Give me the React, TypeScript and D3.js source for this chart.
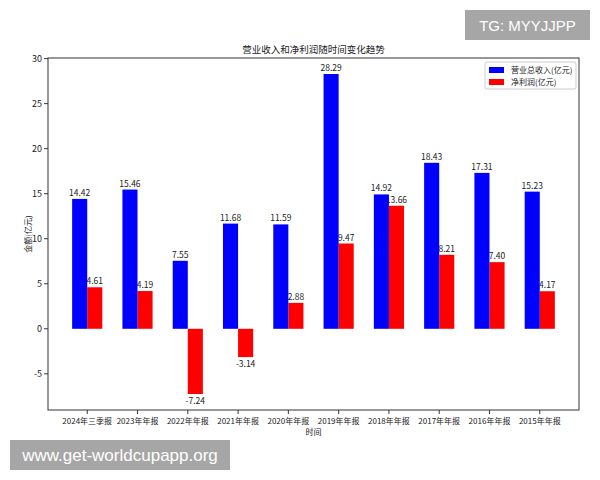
import * as d3 from "d3";

const periods = [
  "2024年三季报",
  "2023年年报",
  "2022年年报",
  "2021年年报",
  "2020年年报",
  "2019年年报",
  "2018年年报",
  "2017年年报",
  "2016年年报",
  "2015年年报",
];
const revenue = [14.42, 15.46, 7.55, 11.68, 11.59, 28.29, 14.92, 18.43, 17.31, 15.23];
const profit = [4.61, 4.19, -7.24, -3.14, 2.88, 9.47, 13.66, 8.21, 7.4, 4.17];
const yTicks = [-5, 0, 5, 10, 15, 20, 25, 30];

const WIDTH = 600;
const HEIGHT = 480;
const PLOT = { left: 48, right: 579, top: 58, bottom: 410 };
const BAR_W = 0.3;
const FONT = "'Noto Sans CJK SC', 'DejaVu Sans', sans-serif";
const INK = "#222";

export default function App() {
  // matplotlib-style 5% margins around the data
  const lo = Math.min(0, d3.min(profit)!);
  const hi = d3.max(revenue)!;
  const pad = (hi - lo) * 0.05;
  const y = d3.scaleLinear().domain([lo - pad, hi + pad]).range([PLOT.bottom, PLOT.top]);

  const xlo = -BAR_W, xhi = periods.length - 1 + BAR_W;
  const xpad = (xhi - xlo) * 0.05;
  const x = d3.scaleLinear().domain([xlo - xpad, xhi + xpad]).range([PLOT.left, PLOT.right]);

  const bar = (i: number, v: number, offset: number, color: string) => {
    const x0 = x(i + offset - BAR_W / 2);
    const x1 = x(i + offset + BAR_W / 2);
    const top = y(Math.max(0, v));
    const bot = y(Math.min(0, v));
    return <rect key={`${color}-${i}`} x={x0} y={top} width={x1 - x0} height={bot - top} fill={color} />;
  };

  const label = (i: number, v: number, offset: number, key: string) => {
    const cx = x(i + offset);
    const ty = v >= 0 ? y(v) - 3 : y(v) + 10;
    return (
      <text key={key} x={cx} y={ty} textAnchor="middle" fontSize={8.5} fill={INK}>
        {v.toFixed(2)}
      </text>
    );
  };

  const midX = (PLOT.left + PLOT.right) / 2;

  return (
    <svg
      width={WIDTH}
      height={HEIGHT}
      style={{ position: "absolute", left: 0, top: 0, background: "#fff" }}
      fontFamily={FONT}
    >
      <rect width={WIDTH} height={HEIGHT} fill="#fff" />

      <text x={midX} y={53} textAnchor="middle" fontSize={9.5} fill={INK}>
        营业收入和净利润随时间变化趋势
      </text>

      {/* red bars and their labels go first so the blue bars sit on top */}
      <g>
        {profit.map((v, i) => bar(i, v, BAR_W / 2, "#ff0000"))}
        {profit.map((v, i) => label(i, v, BAR_W / 2, `pl-${i}`))}
      </g>
      <g>
        {revenue.map((v, i) => bar(i, v, -BAR_W / 2, "#0000ff"))}
        {revenue.map((v, i) => label(i, v, -BAR_W / 2, `rl-${i}`))}
      </g>

      <rect
        x={PLOT.left}
        y={PLOT.top}
        width={PLOT.right - PLOT.left}
        height={PLOT.bottom - PLOT.top}
        fill="none"
        stroke="#333"
        strokeWidth={1}
      />

      {yTicks.map((t) => (
        <g key={t} transform={`translate(${PLOT.left},${y(t)})`}>
          <line x1={-4} x2={0} stroke="#333" />
          <text x={-6} dy="0.35em" textAnchor="end" fontSize={9} fill={INK}>
            {t}
          </text>
        </g>
      ))}

      {periods.map((p, i) => (
        <g key={p} transform={`translate(${x(i)},${PLOT.bottom})`}>
          <line y1={0} y2={4} stroke="#333" />
          <text y={14} textAnchor="middle" fontSize={8} fill={INK}>
            {p}
          </text>
        </g>
      ))}

      <text x={midX} y={435} textAnchor="middle" fontSize={8} fill={INK}>
        时间
      </text>
      <text
        transform={`translate(${31},${(PLOT.top + PLOT.bottom) / 2}) rotate(-90)`}
        textAnchor="middle"
        fontSize={8}
        fill={INK}
      >
        金额(亿元)
      </text>

      {/* legend */}
      <g transform="translate(485,62)">
        <rect width={91} height={27} fill="#fff" stroke="#ccc" rx={2} />
        <rect x={4} y={5} width={15} height={6} fill="#0000ff" />
        <text x={26} y={11} fontSize={8} fill={INK}>营业总收入(亿元)</text>
        <rect x={4} y={17} width={15} height={6} fill="#ff0000" />
        <text x={26} y={23} fontSize={8} fill={INK}>净利润(亿元)</text>
      </g>

      <rect x={465} y={10} width={125} height={30} fill="#a6a6a6" />
      <text x={527.5} y={31} textAnchor="middle" fontSize={15} fill="#fff" fontFamily="'Liberation Sans', Arial, sans-serif">
        TG: MYYJJPP
      </text>
      <rect x={10} y={440} width={220} height={30} fill="#a6a6a6" />
      <text x={120} y={461} textAnchor="middle" fontSize={17} fill="#fff" fontFamily="'Liberation Sans', Arial, sans-serif">
        www.get-worldcupapp.org
      </text>
    </svg>
  );
}
